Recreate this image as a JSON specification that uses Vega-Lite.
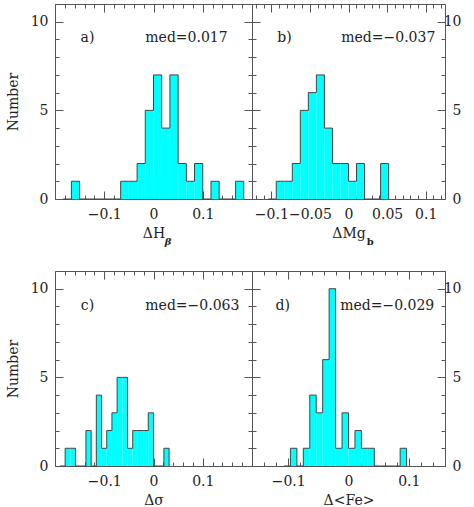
{
  "$schema": "https://vega.github.io/schema/vega-lite/v6.json",
  "padding": {"left": 5, "top": 3, "right": 5, "bottom": 2},
  "config": {
    "font": "DejaVu Serif",
    "view": {"stroke": "#555", "strokeWidth": 1},
    "axis": {
      "domain": false, "grid": false,
      "labelFont": "DejaVu Serif", "labelFontSize": 14, "labelColor": "#222",
      "titleFont": "DejaVu Serif", "titleFontSize": 14, "titleFontWeight": "normal", "titleColor": "#222",
      "tickColor": "#555", "labelFlush": false, "labelOverlap": false
    },
    "text": {"font": "DejaVu Serif", "fontSize": 14, "color": "#222"}
  },
  "datasets": {
    "a": [
      {"x0": -0.1833, "x1": -0.1667, "n": 0},
      {"x0": -0.1667, "x1": -0.15, "n": 1},
      {"x0": -0.15, "x1": -0.1333, "n": 0},
      {"x0": -0.1333, "x1": -0.1167, "n": 0},
      {"x0": -0.1167, "x1": -0.1, "n": 0},
      {"x0": -0.1, "x1": -0.0833, "n": 0},
      {"x0": -0.0833, "x1": -0.0667, "n": 0},
      {"x0": -0.0667, "x1": -0.05, "n": 1},
      {"x0": -0.05, "x1": -0.0333, "n": 1},
      {"x0": -0.0333, "x1": -0.0167, "n": 2},
      {"x0": -0.0167, "x1": 0, "n": 5},
      {"x0": 0, "x1": 0.0167, "n": 7},
      {"x0": 0.0167, "x1": 0.0333, "n": 4},
      {"x0": 0.0333, "x1": 0.05, "n": 7},
      {"x0": 0.05, "x1": 0.0667, "n": 2},
      {"x0": 0.0667, "x1": 0.0833, "n": 1},
      {"x0": 0.0833, "x1": 0.1, "n": 2},
      {"x0": 0.1, "x1": 0.1167, "n": 0},
      {"x0": 0.1167, "x1": 0.1333, "n": 1},
      {"x0": 0.1333, "x1": 0.15, "n": 0},
      {"x0": 0.15, "x1": 0.1667, "n": 0},
      {"x0": 0.1667, "x1": 0.1833, "n": 1},
      {"x0": 0.1833, "x1": 0.2, "n": 0}
    ],
    "b": [
      {"x0": -0.104, "x1": -0.0936, "n": 0},
      {"x0": -0.0936, "x1": -0.0832, "n": 1},
      {"x0": -0.0832, "x1": -0.0728, "n": 1},
      {"x0": -0.0728, "x1": -0.0624, "n": 2},
      {"x0": -0.0624, "x1": -0.052, "n": 5},
      {"x0": -0.052, "x1": -0.0416, "n": 6},
      {"x0": -0.0416, "x1": -0.0312, "n": 7},
      {"x0": -0.0312, "x1": -0.0208, "n": 4},
      {"x0": -0.0208, "x1": -0.0104, "n": 2},
      {"x0": -0.0104, "x1": 0, "n": 2},
      {"x0": 0, "x1": 0.0104, "n": 1},
      {"x0": 0.0104, "x1": 0.0208, "n": 2},
      {"x0": 0.0208, "x1": 0.0312, "n": 0},
      {"x0": 0.0312, "x1": 0.0416, "n": 0},
      {"x0": 0.0416, "x1": 0.052, "n": 2},
      {"x0": 0.052, "x1": 0.0624, "n": 0}
    ],
    "c": [
      {"x0": -0.1899, "x1": -0.1794, "n": 0},
      {"x0": -0.1794, "x1": -0.1688, "n": 1},
      {"x0": -0.1688, "x1": -0.1583, "n": 1},
      {"x0": -0.1583, "x1": -0.1477, "n": 0},
      {"x0": -0.1477, "x1": -0.1372, "n": 0},
      {"x0": -0.1372, "x1": -0.1266, "n": 2},
      {"x0": -0.1266, "x1": -0.1161, "n": 0},
      {"x0": -0.1161, "x1": -0.1055, "n": 4},
      {"x0": -0.1055, "x1": -0.095, "n": 1},
      {"x0": -0.095, "x1": -0.0844, "n": 2},
      {"x0": -0.0844, "x1": -0.0739, "n": 3},
      {"x0": -0.0739, "x1": -0.0633, "n": 5},
      {"x0": -0.0633, "x1": -0.0528, "n": 5},
      {"x0": -0.0528, "x1": -0.0422, "n": 1},
      {"x0": -0.0422, "x1": -0.0317, "n": 2},
      {"x0": -0.0317, "x1": -0.0211, "n": 2},
      {"x0": -0.0211, "x1": -0.0106, "n": 2},
      {"x0": -0.0106, "x1": 0, "n": 3},
      {"x0": 0, "x1": 0.0106, "n": 0},
      {"x0": 0.0106, "x1": 0.0211, "n": 0},
      {"x0": 0.0211, "x1": 0.0317, "n": 1},
      {"x0": 0.0317, "x1": 0.0422, "n": 0}
    ],
    "d": [
      {"x0": -0.107, "x1": -0.0963, "n": 0},
      {"x0": -0.0963, "x1": -0.0856, "n": 1},
      {"x0": -0.0856, "x1": -0.0749, "n": 0},
      {"x0": -0.0749, "x1": -0.0642, "n": 1},
      {"x0": -0.0642, "x1": -0.0535, "n": 4},
      {"x0": -0.0535, "x1": -0.0428, "n": 3},
      {"x0": -0.0428, "x1": -0.0321, "n": 6},
      {"x0": -0.0321, "x1": -0.0214, "n": 10},
      {"x0": -0.0214, "x1": -0.0107, "n": 1},
      {"x0": -0.0107, "x1": 0, "n": 3},
      {"x0": 0, "x1": 0.0107, "n": 1},
      {"x0": 0.0107, "x1": 0.0214, "n": 2},
      {"x0": 0.0214, "x1": 0.0321, "n": 1},
      {"x0": 0.0321, "x1": 0.0428, "n": 1},
      {"x0": 0.0428, "x1": 0.0535, "n": 0},
      {"x0": 0.0535, "x1": 0.0642, "n": 0},
      {"x0": 0.0642, "x1": 0.0749, "n": 0},
      {"x0": 0.0749, "x1": 0.0856, "n": 0},
      {"x0": 0.0856, "x1": 0.0963, "n": 1},
      {"x0": 0.0963, "x1": 0.107, "n": 0}
    ]
  },
  "bounds": "flush",
  "columns": 2,
  "spacing": {"row": 72, "column": 0},
  "concat": [
        {
          "width": 197, "height": 195,
          "data": {"name": "a"},
          "resolve": {"axis": {"x": "independent", "y": "independent"}},
          "layer": [
            {
              "mark": {"type": "rect", "fill": "#00ffff", "strokeWidth": 0},
              "encoding": {
                "x": {"field": "x0", "type": "quantitative", "scale": {"domain": [-0.2, 0.2], "nice": false, "zero": false},
                  "axis": {"orient": "bottom", "values": [-0.2,-0.18,-0.16,-0.14,-0.12,-0.1,-0.08,-0.06,-0.04,-0.02,0,0.02,0.04,0.06,0.08,0.1,0.12,0.14,0.16,0.18,0.2],
                    "tickSize": {"condition": {"test": "abs(datum.value*10-round(datum.value*10))<1e-6", "value": -8}, "value": -4},
                    "labelExpr": "abs(datum.value*10-round(datum.value*10))<1e-6 && abs(datum.value)<0.15 ? format(datum.value,'~g') : ''",
                    "labelPadding": 16, "title": "ΔH ", "titlePadding": 1}},
                "x2": {"field": "x1"},
                "y": {"field": "n", "type": "quantitative", "scale": {"domain": [0, 11], "nice": false},
                  "axis": {"orient": "left", "values": [0,1,2,3,4,5,6,7,8,9,10],
                    "tickSize": {"condition": {"test": "datum.value % 5 === 0", "value": -8}, "value": -4},
                    "labelExpr": "datum.value % 5 === 0 ? datum.label : ''",
                    "labelPadding": 15, "title": "Number", "titlePadding": 10}},
                "y2": {"datum": 0}
              }
            },
            {
              "mark": {"type": "line", "interpolate": "step-after", "stroke": "#444", "strokeWidth": 1},
              "encoding": {
                "x": {"field": "x0", "type": "quantitative", "scale": {"domain": [-0.2, 0.2], "nice": false, "zero": false},
                  "axis": {"orient": "top", "values": [-0.2,-0.18,-0.16,-0.14,-0.12,-0.1,-0.08,-0.06,-0.04,-0.02,0,0.02,0.04,0.06,0.08,0.1,0.12,0.14,0.16,0.18,0.2],
                    "tickSize": {"condition": {"test": "abs(datum.value*10-round(datum.value*10))<1e-6", "value": -8}, "value": -4},
                    "labels": false, "title": null}},
                "y": {"field": "n", "type": "quantitative", "scale": {"domain": [0, 11], "nice": false},
                  "axis": {"orient": "right", "values": [0,1,2,3,4,5,6,7,8,9,10],
                    "tickSize": {"condition": {"test": "datum.value % 5 === 0", "value": -8}, "value": -4},
                    "labels": false, "title": null}}
              }
            },
            {
              "data": {"values": [{}]},
              "mark": {"type": "text", "text": "a)", "align": "center", "baseline": "middle"},
              "encoding": {
                "x": {"datum": -0.134, "type": "quantitative", "axis": null, "scale": {"domain": [-0.2, 0.2], "nice": false, "zero": false}},
                "y": {"datum": 9.1, "type": "quantitative", "axis": null, "scale": {"domain": [0, 11], "nice": false}}
              }
            },
            {
              "data": {"values": [{}]},
              "mark": {"type": "text", "text": "med=0.017", "align": "left", "baseline": "middle"},
              "encoding": {
                "x": {"datum": -0.0166, "type": "quantitative", "axis": null, "scale": {"domain": [-0.2, 0.2], "nice": false, "zero": false}},
                "y": {"datum": 9.1, "type": "quantitative", "axis": null, "scale": {"domain": [0, 11], "nice": false}}
              }
            },
            {
              "data": {"values": [{}]},
              "mark": {"type": "text", "text": "β", "align": "left", "baseline": "middle", "fontSize": 10, "fontStyle": "italic", "fontWeight": "bold"},
              "encoding": {
                "x": {"datum": 0.023, "type": "quantitative", "axis": null, "scale": {"domain": [-0.2, 0.2], "nice": false, "zero": false}},
                "y": {"datum": -2.45, "type": "quantitative", "axis": null, "scale": {"domain": [0, 11], "nice": false}}
              }
            }
          ]
        },
        {
          "width": 193, "height": 195,
          "data": {"name": "b"},
          "resolve": {"axis": {"x": "independent", "y": "independent"}},
          "layer": [
            {
              "mark": {"type": "rect", "fill": "#00ffff", "strokeWidth": 0},
              "encoding": {
                "x": {"field": "x0", "type": "quantitative", "scale": {"domain": [-0.125, 0.125], "nice": false, "zero": false},
                  "axis": {"orient": "bottom", "values": [-0.12,-0.11,-0.1,-0.09,-0.08,-0.07,-0.06,-0.05,-0.04,-0.03,-0.02,-0.01,0,0.01,0.02,0.03,0.04,0.05,0.06,0.07,0.08,0.09,0.1,0.11,0.12],
                    "tickSize": {"condition": {"test": "abs(datum.value*20-round(datum.value*20))<1e-6", "value": -8}, "value": -4},
                    "labelExpr": "abs(datum.value*20-round(datum.value*20))<1e-6 ? format(datum.value,'~g') : ''",
                    "labelPadding": 16, "title": "ΔMg ", "titlePadding": 1}},
                "x2": {"field": "x1"},
                "y": {"field": "n", "type": "quantitative", "scale": {"domain": [0, 11], "nice": false},
                  "axis": {"orient": "left", "values": [0,1,2,3,4,5,6,7,8,9,10],
                    "tickSize": {"condition": {"test": "datum.value % 5 === 0", "value": -8}, "value": -4},
                    "labels": false, "title": null}},
                "y2": {"datum": 0}
              }
            },
            {
              "mark": {"type": "line", "interpolate": "step-after", "stroke": "#444", "strokeWidth": 1},
              "encoding": {
                "x": {"field": "x0", "type": "quantitative", "scale": {"domain": [-0.125, 0.125], "nice": false, "zero": false},
                  "axis": {"orient": "top", "values": [-0.12,-0.11,-0.1,-0.09,-0.08,-0.07,-0.06,-0.05,-0.04,-0.03,-0.02,-0.01,0,0.01,0.02,0.03,0.04,0.05,0.06,0.07,0.08,0.09,0.1,0.11,0.12],
                    "tickSize": {"condition": {"test": "abs(datum.value*20-round(datum.value*20))<1e-6", "value": -8}, "value": -4},
                    "labels": false, "title": null}},
                "y": {"field": "n", "type": "quantitative", "scale": {"domain": [0, 11], "nice": false},
                  "axis": {"orient": "right", "values": [0,1,2,3,4,5,6,7,8,9,10],
                    "tickSize": {"condition": {"test": "datum.value % 5 === 0", "value": -8}, "value": -4},
                    "labelExpr": "datum.value % 5 === 0 ? datum.label : ''",
                    "labelAlign": "right", "labelPadding": 24, "title": null}}
              }
            },
            {
              "data": {"values": [{}]},
              "mark": {"type": "text", "text": "b)", "align": "center", "baseline": "middle"},
              "encoding": {
                "x": {"datum": -0.083, "type": "quantitative", "axis": null, "scale": {"domain": [-0.125, 0.125], "nice": false, "zero": false}},
                "y": {"datum": 9.1, "type": "quantitative", "axis": null, "scale": {"domain": [0, 11], "nice": false}}
              }
            },
            {
              "data": {"values": [{}]},
              "mark": {"type": "text", "text": "med=−0.037", "align": "left", "baseline": "middle"},
              "encoding": {
                "x": {"datum": -0.0094, "type": "quantitative", "axis": null, "scale": {"domain": [-0.125, 0.125], "nice": false, "zero": false}},
                "y": {"datum": 9.1, "type": "quantitative", "axis": null, "scale": {"domain": [0, 11], "nice": false}}
              }
            },
            {
              "data": {"values": [{}]},
              "mark": {"type": "text", "text": "b", "align": "left", "baseline": "middle", "fontSize": 10, "fontWeight": "bold"},
              "encoding": {
                "x": {"datum": 0.0235, "type": "quantitative", "axis": null, "scale": {"domain": [-0.125, 0.125], "nice": false, "zero": false}},
                "y": {"datum": -2.45, "type": "quantitative", "axis": null, "scale": {"domain": [0, 11], "nice": false}}
              }
            }
          ]
        },
        {
          "width": 197, "height": 195,
          "data": {"name": "c"},
          "resolve": {"axis": {"x": "independent", "y": "independent"}},
          "layer": [
            {
              "mark": {"type": "rect", "fill": "#00ffff", "strokeWidth": 0},
              "encoding": {
                "x": {"field": "x0", "type": "quantitative", "scale": {"domain": [-0.2, 0.2], "nice": false, "zero": false},
                  "axis": {"orient": "bottom", "values": [-0.2,-0.18,-0.16,-0.14,-0.12,-0.1,-0.08,-0.06,-0.04,-0.02,0,0.02,0.04,0.06,0.08,0.1,0.12,0.14,0.16,0.18,0.2],
                    "tickSize": {"condition": {"test": "abs(datum.value*10-round(datum.value*10))<1e-6", "value": -8}, "value": -4},
                    "labelExpr": "abs(datum.value*10-round(datum.value*10))<1e-6 && abs(datum.value)<0.15 ? format(datum.value,'~g') : ''",
                    "labelPadding": 16, "title": "Δσ", "titlePadding": 1}},
                "x2": {"field": "x1"},
                "y": {"field": "n", "type": "quantitative", "scale": {"domain": [0, 11], "nice": false},
                  "axis": {"orient": "left", "values": [0,1,2,3,4,5,6,7,8,9,10],
                    "tickSize": {"condition": {"test": "datum.value % 5 === 0", "value": -8}, "value": -4},
                    "labelExpr": "datum.value % 5 === 0 ? datum.label : ''",
                    "labelPadding": 15, "title": "Number", "titlePadding": 10}},
                "y2": {"datum": 0}
              }
            },
            {
              "mark": {"type": "line", "interpolate": "step-after", "stroke": "#444", "strokeWidth": 1},
              "encoding": {
                "x": {"field": "x0", "type": "quantitative", "scale": {"domain": [-0.2, 0.2], "nice": false, "zero": false},
                  "axis": {"orient": "top", "values": [-0.2,-0.18,-0.16,-0.14,-0.12,-0.1,-0.08,-0.06,-0.04,-0.02,0,0.02,0.04,0.06,0.08,0.1,0.12,0.14,0.16,0.18,0.2],
                    "tickSize": {"condition": {"test": "abs(datum.value*10-round(datum.value*10))<1e-6", "value": -8}, "value": -4},
                    "labels": false, "title": null}},
                "y": {"field": "n", "type": "quantitative", "scale": {"domain": [0, 11], "nice": false},
                  "axis": {"orient": "right", "values": [0,1,2,3,4,5,6,7,8,9,10],
                    "tickSize": {"condition": {"test": "datum.value % 5 === 0", "value": -8}, "value": -4},
                    "labels": false, "title": null}}
              }
            },
            {
              "data": {"values": [{}]},
              "mark": {"type": "text", "text": "c)", "align": "center", "baseline": "middle"},
              "encoding": {
                "x": {"datum": -0.134, "type": "quantitative", "axis": null, "scale": {"domain": [-0.2, 0.2], "nice": false, "zero": false}},
                "y": {"datum": 9.0, "type": "quantitative", "axis": null, "scale": {"domain": [0, 11], "nice": false}}
              }
            },
            {
              "data": {"values": [{}]},
              "mark": {"type": "text", "text": "med=−0.063", "align": "left", "baseline": "middle"},
              "encoding": {
                "x": {"datum": -0.0166, "type": "quantitative", "axis": null, "scale": {"domain": [-0.2, 0.2], "nice": false, "zero": false}},
                "y": {"datum": 9.0, "type": "quantitative", "axis": null, "scale": {"domain": [0, 11], "nice": false}}
              }
            }
          ]
        },
        {
          "width": 193, "height": 195,
          "data": {"name": "d"},
          "resolve": {"axis": {"x": "independent", "y": "independent"}},
          "layer": [
            {
              "mark": {"type": "rect", "fill": "#00ffff", "strokeWidth": 0},
              "encoding": {
                "x": {"field": "x0", "type": "quantitative", "scale": {"domain": [-0.16, 0.16], "nice": false, "zero": false},
                  "axis": {"orient": "bottom", "values": [-0.16,-0.14,-0.12,-0.1,-0.08,-0.06,-0.04,-0.02,0,0.02,0.04,0.06,0.08,0.1,0.12,0.14,0.16],
                    "tickSize": {"condition": {"test": "abs(datum.value*10-round(datum.value*10))<1e-6", "value": -8}, "value": -4},
                    "labelExpr": "abs(datum.value*10-round(datum.value*10))<1e-6 ? format(datum.value,'~g') : ''",
                    "labelPadding": 16, "title": "Δ<Fe>", "titlePadding": 1}},
                "x2": {"field": "x1"},
                "y": {"field": "n", "type": "quantitative", "scale": {"domain": [0, 11], "nice": false},
                  "axis": {"orient": "left", "values": [0,1,2,3,4,5,6,7,8,9,10],
                    "tickSize": {"condition": {"test": "datum.value % 5 === 0", "value": -8}, "value": -4},
                    "labels": false, "title": null}},
                "y2": {"datum": 0}
              }
            },
            {
              "mark": {"type": "line", "interpolate": "step-after", "stroke": "#444", "strokeWidth": 1},
              "encoding": {
                "x": {"field": "x0", "type": "quantitative", "scale": {"domain": [-0.16, 0.16], "nice": false, "zero": false},
                  "axis": {"orient": "top", "values": [-0.16,-0.14,-0.12,-0.1,-0.08,-0.06,-0.04,-0.02,0,0.02,0.04,0.06,0.08,0.1,0.12,0.14,0.16],
                    "tickSize": {"condition": {"test": "abs(datum.value*10-round(datum.value*10))<1e-6", "value": -8}, "value": -4},
                    "labels": false, "title": null}},
                "y": {"field": "n", "type": "quantitative", "scale": {"domain": [0, 11], "nice": false},
                  "axis": {"orient": "right", "values": [0,1,2,3,4,5,6,7,8,9,10],
                    "tickSize": {"condition": {"test": "datum.value % 5 === 0", "value": -8}, "value": -4},
                    "labelExpr": "datum.value % 5 === 0 ? datum.label : ''",
                    "labelAlign": "right", "labelPadding": 24, "title": null}}
              }
            },
            {
              "data": {"values": [{}]},
              "mark": {"type": "text", "text": "d)", "align": "center", "baseline": "middle"},
              "encoding": {
                "x": {"datum": -0.109, "type": "quantitative", "axis": null, "scale": {"domain": [-0.16, 0.16], "nice": false, "zero": false}},
                "y": {"datum": 9.0, "type": "quantitative", "axis": null, "scale": {"domain": [0, 11], "nice": false}}
              }
            },
            {
              "data": {"values": [{}]},
              "mark": {"type": "text", "text": "med=−0.029", "align": "left", "baseline": "middle"},
              "encoding": {
                "x": {"datum": -0.0138, "type": "quantitative", "axis": null, "scale": {"domain": [-0.16, 0.16], "nice": false, "zero": false}},
                "y": {"datum": 9.0, "type": "quantitative", "axis": null, "scale": {"domain": [0, 11], "nice": false}}
              }
            }
          ]
        }
  ]
}
